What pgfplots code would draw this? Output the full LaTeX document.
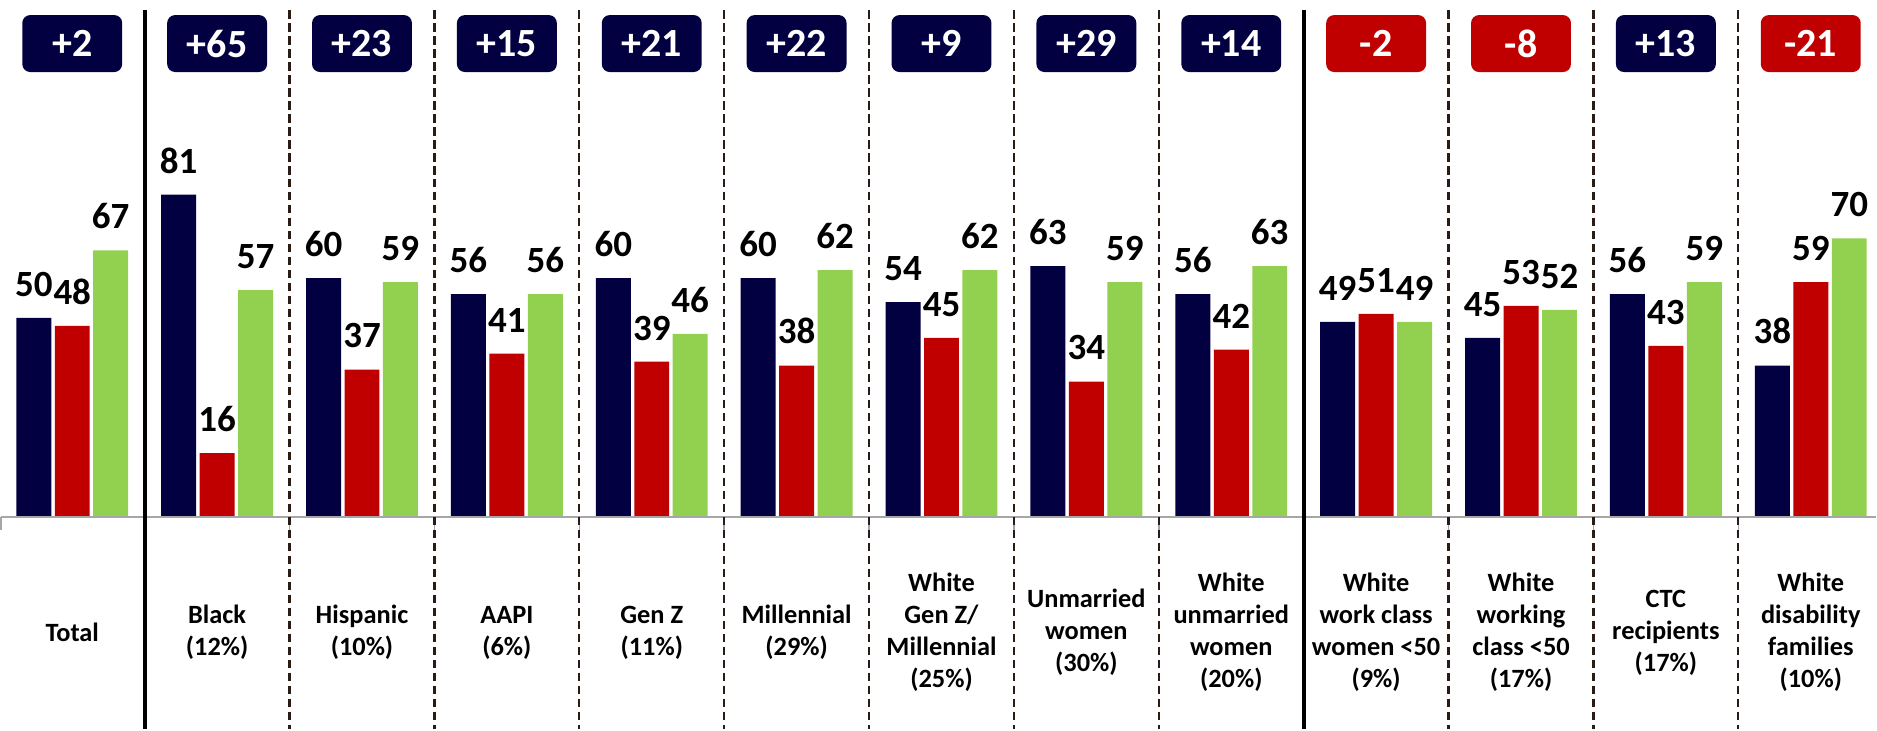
\documentclass[border=0pt]{standalone}
\usepackage{fontspec}
\setmainfont{Carlito}
\usepackage{pgfplots}
\pgfplotsset{compat=1.18}
\definecolor{navy}{RGB}{2,0,64}
\definecolor{dred}{RGB}{192,0,0}
\definecolor{lgreen}{RGB}{146,208,80}
\definecolor{sepcol}{RGB}{40,28,20}

\begin{document}
\begin{tikzpicture}[
  badge/.style={rounded corners=4pt, minimum width=50pt, minimum height=28.5pt,
    inner sep=0pt, text=white, font=\bfseries\fontsize{20}{20}\selectfont},
  sep/.style={sepcol, line width=1.1pt, dash pattern=on 4.25pt off 2.25pt},
  solidsep/.style={black, line width=2pt},
  basetick/.style={gray!70, line width=0.8pt}]
\begin{axis}[
  scale only axis,
  width=938.5pt, height=364.5pt,
  xmin=-0.4931, xmax=12.4517,
  ymin=-53.27, ymax=129.9,
  axis line style={draw=none},
  major tick length=0pt,
  ytick=\empty,
  xtick={0,...,12},
  xticklabels={{Total},{Black\\(12\%)},{Hispanic\\(10\%)},{AAPI\\(6\%)},
    {Gen Z\\(11\%)},{Millennial\\(29\%)},{White\\Gen Z/\\Millennial\\(25\%)},
    {Unmarried\\women\\(30\%)},{White\\unmarried\\women\\(20\%)},
    {White\\work class\\women <50\\(9\%)},{White\\working\\class <50\\(17\%)},
    {CTC\\recipients\\(17\%)},{White\\disability\\families\\(10\%)}},
  xticklabel style={font=\bfseries\fontsize{13.2}{16}\selectfont, align=center,
    anchor=center, yshift=48pt},
  ybar=1.75pt, bar width=17.5pt,
  nodes near coords,
  /pgf/number format/assume math mode=true,
  every node near coord/.append style={font=\bfseries\fontsize{18.5}{20}\selectfont,
    text=black, inner sep=0pt, yshift=10.5pt},
  clip=false,
]
% Democrat / Republican / other
\addplot[fill=navy, draw=none] coordinates {
  (0,50) (1,81) (2,60) (3,56) (4,60) (5,60) (6,54) (7,63) (8,56) (9,49) (10,45) (11,56) (12,38)};
\addplot[fill=dred, draw=none] coordinates {
  (0,48) (1,16) (2,37) (3,41) (4,39) (5,38) (6,45) (7,34) (8,42) (9,51) (10,53) (11,43) (12,59)};
\addplot[fill=lgreen, draw=none] coordinates {
  (0,67) (1,57) (2,59) (3,56) (4,46) (5,62) (6,62) (7,59) (8,63) (9,49) (10,52) (11,59) (12,70)};

% baseline with ticks at group edges
\draw[basetick] (axis cs:-0.4931,0) -- (axis cs:12.4517,0);
\draw[basetick] (axis cs:-0.49,0) -- (axis cs:-0.49,-3.27);
\pgfplotsinvokeforeach{0,...,11}{
  \draw[basetick] (axis cs:#1.5,0) -- (axis cs:#1.5,-3.27);
}

% separators
\pgfplotsinvokeforeach{1,...,7}{
  \draw[sep] (axis cs:#1.5,127.4) -- (axis cs:#1.5,-53.27);
}
\pgfplotsinvokeforeach{9,10,11}{
  \draw[sep] (axis cs:#1.5,127.4) -- (axis cs:#1.5,-53.27);
}
\draw[solidsep] (axis cs:0.5,127.4) -- (axis cs:0.5,-53.27);
\draw[solidsep] (axis cs:8.5,127.4) -- (axis cs:8.5,-53.27);

% margin badges
\node[badge, fill=navy] at (axis cs:0,119) {+2};
\node[badge, fill=navy] at (axis cs:1,119) {+65};
\node[badge, fill=navy] at (axis cs:2,119) {+23};
\node[badge, fill=navy] at (axis cs:3,119) {+15};
\node[badge, fill=navy] at (axis cs:4,119) {+21};
\node[badge, fill=navy] at (axis cs:5,119) {+22};
\node[badge, fill=navy] at (axis cs:6,119) {+9};
\node[badge, fill=navy] at (axis cs:7,119) {+29};
\node[badge, fill=navy] at (axis cs:8,119) {+14};
\node[badge, fill=dred] at (axis cs:9,119) {-2};
\node[badge, fill=dred] at (axis cs:10,119) {-8};
\node[badge, fill=navy] at (axis cs:11,119) {+13};
\node[badge, fill=dred] at (axis cs:12,119) {-21};
\end{axis}
\end{tikzpicture}
\end{document}
